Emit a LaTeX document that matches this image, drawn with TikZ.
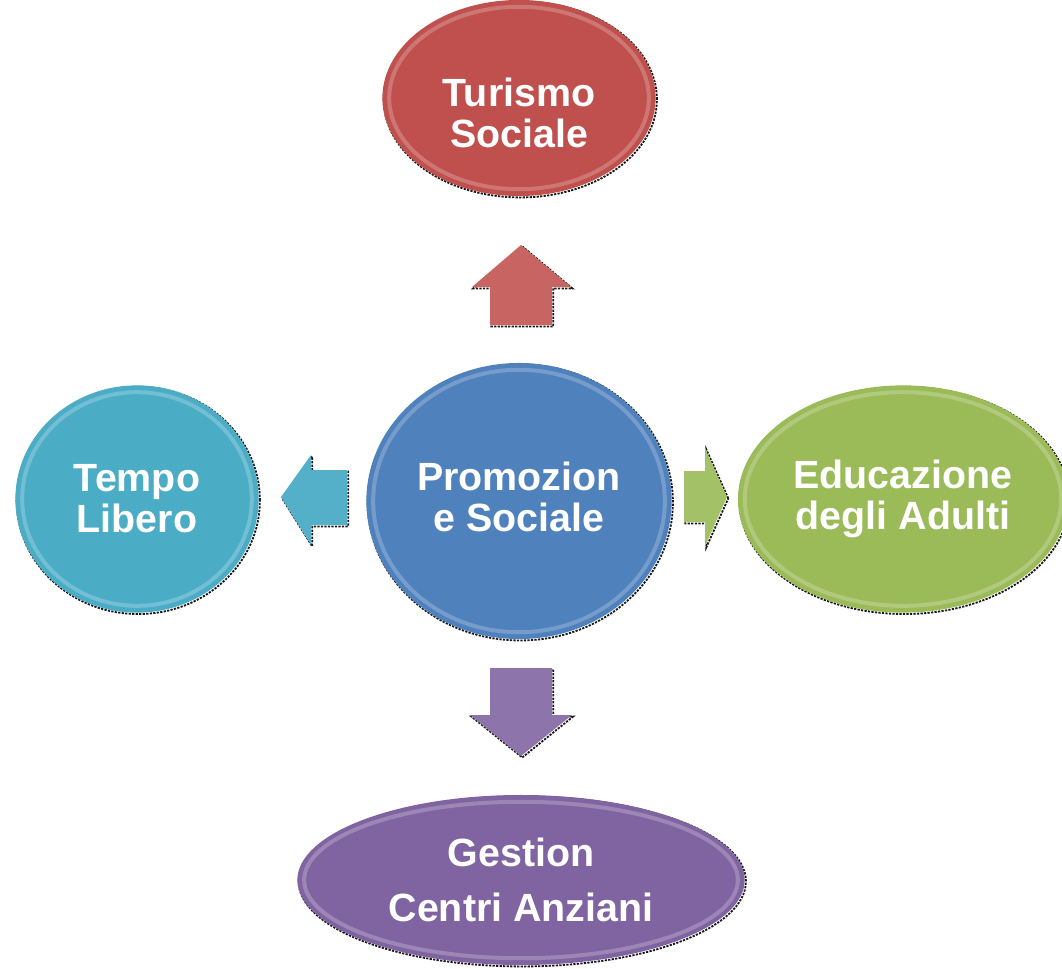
\documentclass[tikz,border=0pt]{standalone}
\usepackage{fontspec}
\setmainfont{Liberation Sans}
\usetikzlibrary{shapes.geometric,shadows,calc}

\definecolor{rosso}{HTML}{C0504D}
\definecolor{blu}{HTML}{4F81BD}
\definecolor{ciano}{HTML}{4BACC6}
\definecolor{verde}{HTML}{9BBB59}
\definecolor{viola}{HTML}{8064A2}

\begin{document}
\begin{tikzpicture}[x=0.025cm,y=-0.025cm,
  outline/.style={general shadow={draw=black!90,dash pattern=on 1.6pt off 0.9pt,
      line width=1.3pt,shadow xshift=0.9pt,shadow yshift=-1pt}},
  gloss/.style={path picture={
      \draw [white,opacity=.22,line width=0.1cm]
        let \p1=($(path picture bounding box.north east)-(path picture bounding box.center)$)
        in (path picture bounding box.center) ellipse [x radius=\x1-0.17cm,y radius=\y1-0.17cm];}},
  bubble/.style={ellipse,outline,gloss,inner sep=0pt,text=white,align=center,
      font=\fontsize{28}{29}\selectfont\bfseries},
  blockarrow/.style={outline}]

\useasboundingbox (0,0) rectangle (1062,968);

% bubbles
\node [bubble,fill=rosso,minimum width=6.83cm,minimum height=4.9cm]
    (turismo) at (519,98) {\rule{0pt}{41pt}Turismo\\Sociale};
\node [bubble,fill=blu,minimum width=7.63cm,minimum height=6.9cm]
    (promo) at (519,501) {Promozion\\e Sociale\rule[-6pt]{0pt}{0pt}};
\node [bubble,fill=ciano,minimum width=6.08cm,minimum height=5.68cm]
    (tempo) at (137,499) {Tempo\\Libero};
\node [bubble,fill=verde,minimum width=8.25cm,minimum height=5.68cm]
    (educa) at (903,499) {Educazione\\degli Adulti};
\node [bubble,fill=viola,minimum width=11.18cm,minimum height=4.25cm]
    (centri) at (521,880) {Gestion\\[10pt]Centri Anziani};

% block arrows
\fill [blockarrow,rosso!88!white]
    (521,245) -- (571,287) -- (552,287) -- (552,325)
    -- (490,325) -- (490,287) -- (472,287) -- cycle;
\fill [blockarrow,ciano!95!white]
    (281,497) -- (311,455) -- (311,470) -- (347,470)
    -- (347,525) -- (311,525) -- (311,545) -- cycle;
\fill [blockarrow,verde!92!white]
    (727,497) -- (705,448) -- (705,471) -- (684,471)
    -- (684,522) -- (705,522) -- (705,546) -- cycle;
\fill [blockarrow,viola!90!white]
    (521,756) -- (572,715) -- (552,715) -- (552,668)
    -- (490,668) -- (490,715) -- (470,715) -- cycle;

\end{tikzpicture}
\end{document}
